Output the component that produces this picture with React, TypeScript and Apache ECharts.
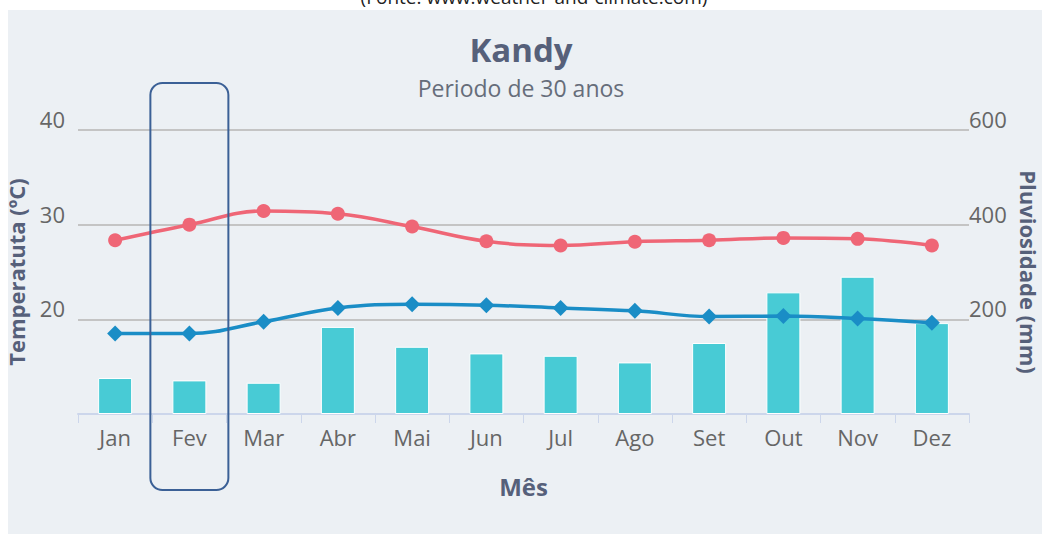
import React, { useEffect, useRef } from "react";
import * as echarts from "echarts";

const months = ["Jan", "Fev", "Mar", "Abr", "Mai", "Jun", "Jul", "Ago", "Set", "Out", "Nov", "Dez"];
const rainfall = [76, 71, 66, 184, 142, 128, 123, 109, 150, 257, 290, 192];
const maxTemp = [28.35, 30.0, 31.45, 31.15, 29.8, 28.25, 27.8, 28.2, 28.35, 28.6, 28.5, 27.8];
const minTemp = [18.5, 18.5, 19.75, 21.2, 21.6, 21.5, 21.2, 20.9, 20.3, 20.35, 20.1, 19.65];
const highlightMonth = "Fev";

const FONT = "'Open Sans', 'Noto Sans', sans-serif";
const LABEL = "#666666";
const TITLE = "#56607a";

export default function App() {
  const ref = useRef<HTMLDivElement>(null);
  useEffect(() => {
    if (!ref.current) return;
    const chart = echarts.init(ref.current, null, { renderer: "svg" });
    chart.setOption({
      animation: false,
      backgroundColor: "transparent",
      textStyle: { fontFamily: FONT },
      title: {
        text: "Kandy",
        subtext: "Periodo de 30 anos",
        left: "center",
        top: 24,
        itemGap: 5,
        textStyle: { fontFamily: FONT, fontSize: 33, fontWeight: "bold", color: TITLE, lineHeight: 40 },
        subtextStyle: { fontFamily: FONT, fontSize: 23, color: "#666d7a", lineHeight: 28 },
      },
      grid: { left: 78, right: 73, top: 130, bottom: 120, containLabel: false, outerBoundsMode: "none" },
      xAxis: {
        type: "category",
        data: months,
        boundaryGap: true,
        name: "Mês",
        nameLocation: "middle",
        nameGap: 60,
        nameTextStyle: { fontFamily: FONT, fontSize: 24, fontWeight: "bold", color: TITLE },
        axisLine: { show: true, lineStyle: { color: "#ccd6eb", width: 2 } },
        axisTick: { show: true, length: 9, lineStyle: { color: "#ccd6eb", width: 1 } },
        axisLabel: { fontFamily: FONT, fontSize: 22, color: LABEL, margin: 12 },
      },
      yAxis: [
        {
          type: "value",
          min: 10,
          max: 40,
          interval: 10,
          name: "Temperatuta (ºC)",
          nameLocation: "middle",
          nameRotate: 90,
          nameGap: 51,
          nameTextStyle: { fontFamily: FONT, fontSize: 22, fontWeight: "bold", color: TITLE },
          axisLine: { show: false },
          axisTick: { show: false },
          axisLabel: {
            fontFamily: FONT,
            fontSize: 22,
            color: LABEL,
            margin: 13,
            verticalAlign: "bottom",
            formatter: (v: number) => (v === 10 ? "" : String(v)),
          },
          splitLine: { show: true, lineStyle: { color: "#c4c4c4", width: 2 } },
        },
        {
          type: "value",
          min: 0,
          max: 600,
          interval: 200,
          name: "Pluviosidade (mm)",
          nameLocation: "middle",
          nameRotate: -90,
          nameGap: 44,
          nameTextStyle: { fontFamily: FONT, fontSize: 22, fontWeight: "bold", color: TITLE },
          axisLine: { show: false },
          axisTick: { show: false },
          axisLabel: {
            fontFamily: FONT,
            fontSize: 22,
            color: LABEL,
            margin: 0,
            verticalAlign: "bottom",
            formatter: (v: number) => (v === 0 ? "" : String(v)),
          },
          splitLine: { show: false },
        },
      ],
      series: [
        {
          name: "Pluviosidade",
          type: "bar",
          yAxisIndex: 1,
          data: rainfall,
          barWidth: 34,
          itemStyle: { color: "#48cbd5", borderColor: "#ffffff", borderWidth: 1 },
          z: 1,
        },
        {
          name: "Máx",
          type: "line",
          yAxisIndex: 0,
          data: maxTemp,
          smooth: 0.4,
          symbol: "circle",
          symbolSize: 14,
          lineStyle: { color: "#ef6676", width: 3.5 },
          itemStyle: { color: "#ef6676" },
          z: 3,
        },
        {
          name: "Mín",
          type: "line",
          yAxisIndex: 0,
          data: minTemp,
          smooth: 0.4,
          symbol: "diamond",
          symbolSize: 16,
          lineStyle: { color: "#1a8dc6", width: 3.5 },
          itemStyle: { color: "#1a8dc6" },
          z: 4,
        },
      ],
    });

    const px = chart.convertToPixel({ xAxisIndex: 0 }, highlightMonth) as any;
    const bx = Array.isArray(px) ? px[0] : (px as number);
    chart.setOption({
      graphic: [
        {
          type: "text",
          x: 534,
          y: 6,
          silent: true,
          style: {
            text: "(Fonte: www.weather-and-climate.com)",
            fontFamily: FONT,
            fontSize: 19,
            fill: "#222222",
            align: "center",
            verticalAlign: "bottom",
          },
        },
        {
          type: "rect",
          z: 100,
          silent: true,
          shape: { x: bx - 39, y: 83, width: 78, height: 407, r: 12 },
          style: { fill: "none", stroke: "#3b6096", lineWidth: 2 },
        },
      ],
    });
    return () => chart.dispose();
  }, []);
  return (
    <div style={{ position: "absolute", left: 0, top: 0, width: 1042, height: 534, background: "#ffffff" }}>
      <div style={{ position: "absolute", left: 8, top: 10, width: 1034, height: 524, background: "#ecf0f4" }} />
      <div ref={ref} style={{ position: "absolute", left: 0, top: 0, width: 1042, height: 534 }} />
    </div>
  );
}
